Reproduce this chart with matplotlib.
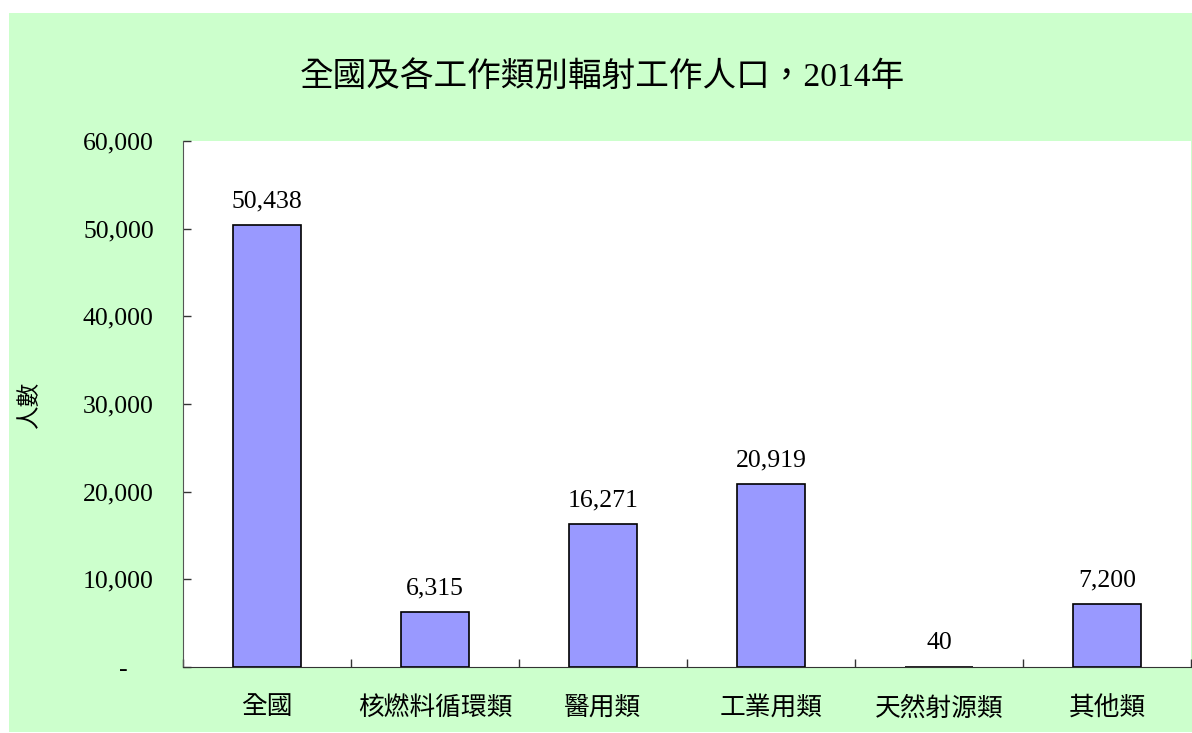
import numpy as np
import matplotlib.pyplot as plt
from matplotlib.patches import Rectangle
from matplotlib.ticker import FuncFormatter

plt.rcParams["font.family"] = ["Liberation Serif", "Noto Sans CJK TC", "DejaVu Sans"]

title = "全國及各工作類別輻射工作人口，2014年"
categories = ["全國", "核燃料循環類", "醫用類", "工業用類", "天然射源類", "其他類"]
workers = [50438, 6315, 16271, 20919, 40, 7200]
y_ticks = [0, 10000, 20000, 30000, 40000, 50000, 60000]

fig = plt.figure(figsize=(11.92, 7.33), dpi=100)
fig.patch.set_facecolor("white")

# light green panel behind everything
bg = Rectangle((9 / 1192, 1 / 733), 1 - 9 / 1192, 1 - 14 / 733,
               transform=fig.transFigure, facecolor="#CCFFCC", edgecolor="none", zorder=-10)
fig.patches.append(bg)

ax = fig.add_axes([183 / 1192, 66 / 733, 1008 / 1192, 526 / 733])
ax.set_facecolor("white")

x = np.arange(len(categories))
ax.bar(x, workers, width=0.405, color="#9999FF", edgecolor="black", linewidth=1.2)

for xi, v in zip(x, workers):
    ax.annotate(f"{v:,}", (xi, v), xytext=(0, 9), textcoords="offset points",
                ha="center", va="bottom", fontsize=18.5)

ax.set_xlim(-0.5, len(categories) - 0.5)
ax.set_ylim(0, 60000)
ax.set_yticks(y_ticks)
ax.yaxis.set_major_formatter(FuncFormatter(lambda v, p: "-    " if v == 0 else f"{int(v):,}"))
ax.set_xticks(x)
ax.set_xticklabels(categories)
ax.set_xticks(np.arange(len(categories) + 1) - 0.5, minor=True)

ax.tick_params(axis="y", direction="in", length=6, width=1, pad=21, labelsize=18.5, colors="#333333", labelcolor="black")
ax.tick_params(axis="x", which="major", length=0, pad=21, labelsize=18.5)
ax.tick_params(axis="x", which="minor", direction="in", length=6, width=1, colors="#333333")

for side in ["top", "right"]:
    ax.spines[side].set_visible(False)
ax.spines["left"].set_color("#555555")
ax.spines["bottom"].set_color("#333333")

ax.set_ylabel("人數", fontsize=17)
ax.yaxis.set_label_coords(-0.141, 0.5)

fig.text(0.505, 1 - 77 / 733, title, ha="center", va="center", fontsize=24.2)

plt.savefig("out.png", dpi=100)
